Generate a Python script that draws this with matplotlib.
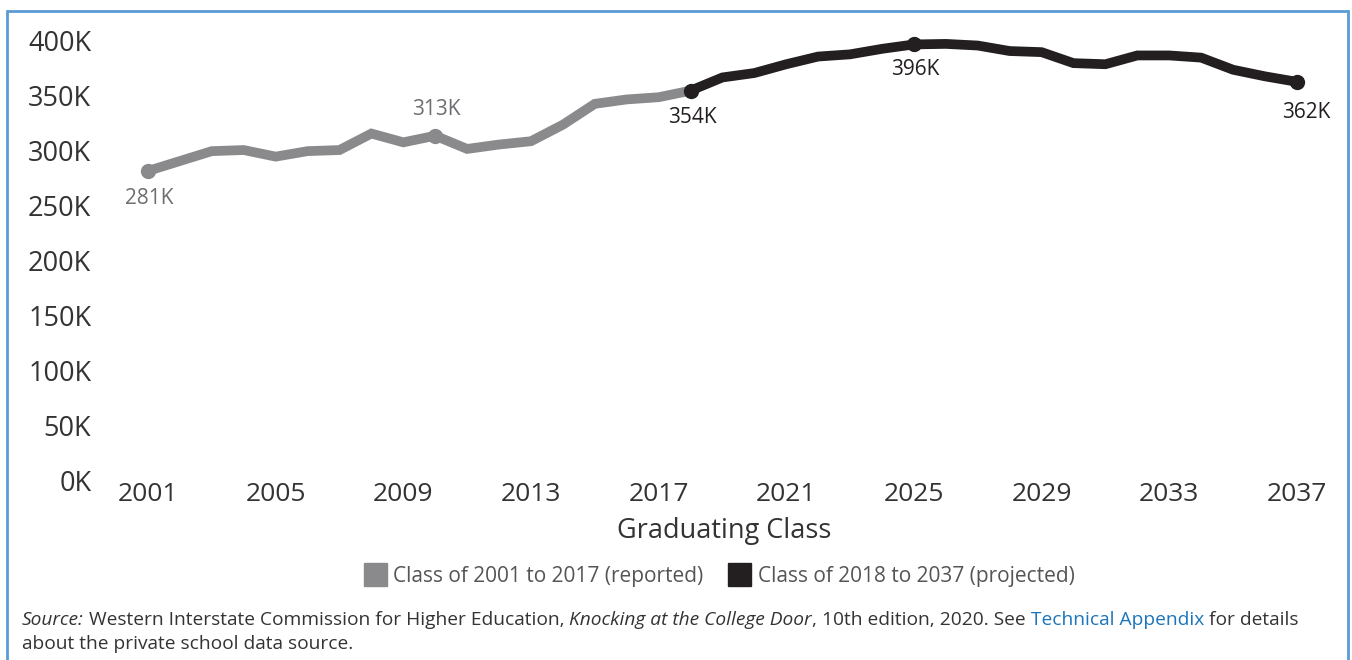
import matplotlib
matplotlib.use("Agg")
import matplotlib.pyplot as plt
from matplotlib.patches import Patch, Rectangle

plt.rcParams['font.family'] = ['Open Sans', 'DejaVu Sans']

# graduates per class, in thousands
years_reported = list(range(2001, 2019))
grads_reported = [281, 290, 299, 300, 294, 299, 300, 315, 307, 313,
                  301, 305, 308, 323, 342, 346, 348, 354]
years_projected = list(range(2018, 2038))
grads_projected = [354, 366, 370, 378, 385, 387, 392, 396, 396.5, 395,
                   390, 389, 379, 378, 386, 386, 384, 373, 367, 362]

xticks = list(range(2001, 2038, 4))
yticks = list(range(0, 401, 50))

# labelled points: (year, value, color, dy offset in points)
callouts = [(2001, 281, '#6d6e71', -20),
            (2010, 313, '#6d6e71', 19),
            (2018, 354, '#231f20', -19),
            (2025, 396, '#231f20', -18),
            (2037, 362, '#231f20', -22)]

grey = '#8a8a8d'
black = '#231f20'
textc = '#333333'

fig = plt.figure(figsize=(13.52, 6.6), dpi=100)
ax = fig.add_axes([0.0953, 0.2727, 0.8781, 0.6833])

ax.plot(years_reported, grads_reported, color=grey, lw=7, solid_joinstyle='miter',
        solid_capstyle='round', zorder=2)
ax.plot(years_projected, grads_projected, color=black, lw=7, solid_joinstyle='miter',
        solid_capstyle='round', zorder=3)

for yr, val, col, dy in callouts:
    mc = grey if yr < 2018 else black
    ax.plot([yr], [val], 'o', color=mc, ms=10, zorder=4, clip_on=False)
    dx = 7 if yr == 2037 else 1
    ax.annotate(f'{val}K', (yr, val), xytext=(dx, dy), textcoords='offset points',
                ha='center', va='center', fontsize=15, color=col)

ax.set_xlim(2000.4, 2037.6)
ax.set_ylim(0, 410)
ax.set_xticks(xticks)
ax.set_yticks(yticks)
ax.set_yticklabels([f'{v}K' for v in yticks])
ax.tick_params(axis='y', length=0, pad=27, labelsize=19.5, labelcolor=textc)
ax.tick_params(axis='x', length=0, pad=1.5, labelsize=19, labelcolor=textc)
for s in ax.spines.values():
    s.set_visible(False)

fig.text(0.5355, 0.1955, 'Graduating Class', ha='center', va='center',
         fontsize=19.5, color=textc)

handles = [Patch(color=grey, label='Class of 2001 to 2017 (reported)'),
           Patch(color=black, label='Class of 2018 to 2037 (projected)')]
fig.legend(handles=handles, loc='center', bbox_to_anchor=(0.532, 0.129), ncol=2,
           frameon=False, fontsize=15, labelcolor='#555555', handlelength=1.1,
           handleheight=1.3, handletextpad=0.3, columnspacing=1.2)

# source note, pieces chained one after another
pieces = [(' Western Interstate Commission for Higher Education, ', 'normal', textc),
          ('Knocking at the College Door', 'italic', textc),
          (', 10th edition, 2020. See ', 'normal', textc),
          ('Technical Appendix', 'normal', '#1a75bb'),
          (' for details', 'normal', textc)]
prev = fig.text(0.0163, 0.0475, 'Source:', fontsize=13.8, style='italic',
                color=textc, va='bottom')
for txt, st, col in pieces:
    prev = ax.annotate(txt, xy=(1, 0), xycoords=prev, va='bottom', ha='left',
                       fontsize=13.8, style=st, color=col, annotation_clip=False)
fig.text(0.0163, 0.0105, 'about the private school data source.', fontsize=13.8,
         color=textc, va='bottom')

fig.patches.append(Rectangle((0.0055, -0.05), 0.9918, 1.033, transform=fig.transFigure,
                             fill=False, edgecolor='#5b9bd5', lw=2, figure=fig))

fig.savefig('out.png', dpi=100)
